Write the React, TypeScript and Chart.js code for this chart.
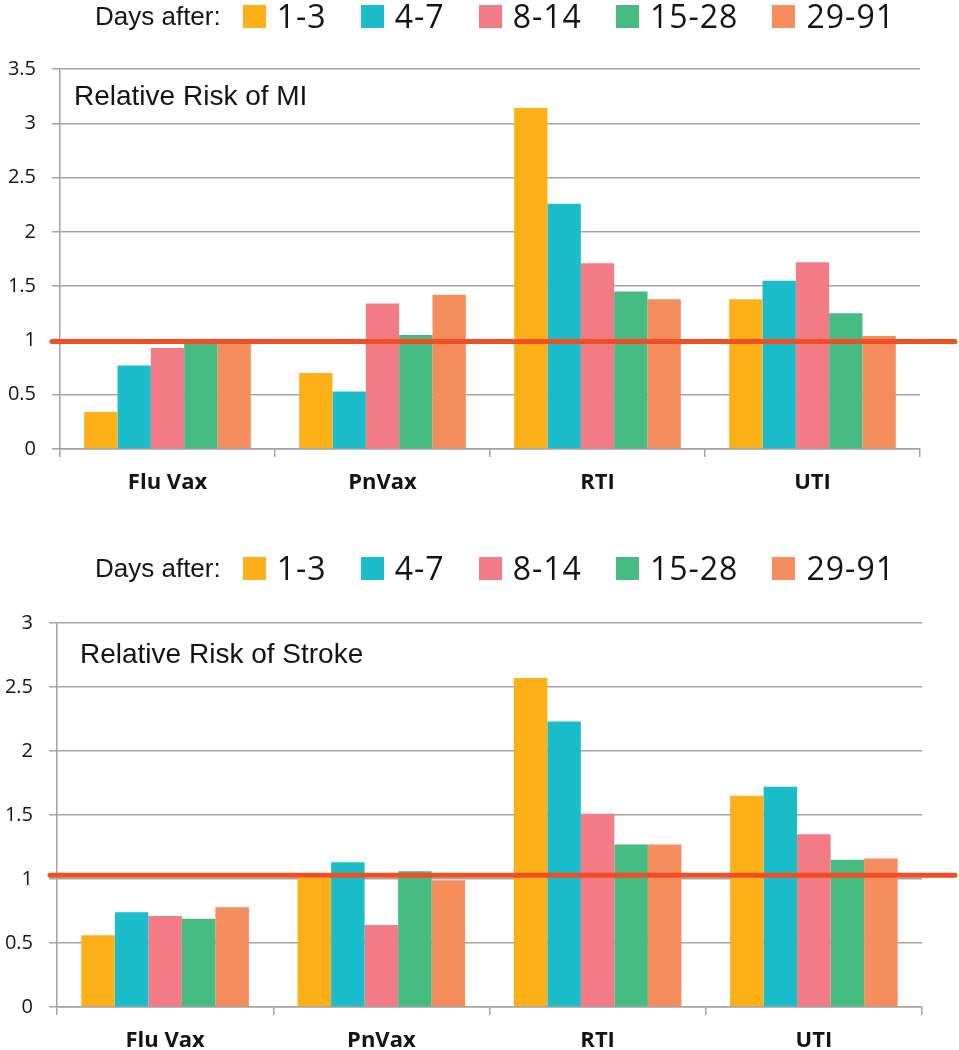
import React, { useEffect, useRef } from "react";
import { Chart, registerables } from "chart.js";

Chart.register(...registerables);

// ---------- data ----------
const categories = ["Flu Vax", "PnVax", "RTI", "UTI"];
const periods = ["1-3", "4-7", "8-14", "15-28", "29-91"];
const colors = ["#FDB017", "#1BBDCB", "#F37B86", "#46BC82", "#F68D5C"];

const miDays1to3 = [0.34, 0.7, 3.14, 1.38];
const miDays4to7 = [0.77, 0.53, 2.26, 1.55];
const miDays8to14 = [0.93, 1.34, 1.71, 1.72];
const miDays15to28 = [0.98, 1.05, 1.45, 1.25];
const miDays29to91 = [0.99, 1.42, 1.38, 1.04];

const strokeDays1to3 = [0.56, 1.01, 2.57, 1.65];
const strokeDays4to7 = [0.74, 1.13, 2.23, 1.72];
const strokeDays8to14 = [0.71, 0.64, 1.51, 1.35];
const strokeDays15to28 = [0.69, 1.06, 1.27, 1.15];
const strokeDays29to91 = [0.78, 0.99, 1.27, 1.16];

const miYMax = 3.5;
const strokeYMax = 3;
const yStep = 0.5;
const miReference = 0.99;
const strokeReference = 1.03;

const miTitle = "Relative Risk of MI";
const strokeTitle = "Relative Risk of Stroke";
const legendLabel = "Days after:";

const GRID = "#a3a3a3";
const TEXT = "#141414";

const overlayPlugin = {
  id: "overlay",
  afterDatasetsDraw(chart: any, _args: any, opts: any) {
    const { ctx, chartArea } = chart;
    const y = chart.scales.y.getPixelForValue(opts.refValue);
    ctx.save();
    ctx.strokeStyle = "#F04E23";
    ctx.lineWidth = 5;
    ctx.lineCap = "round";
    ctx.beginPath();
    ctx.moveTo(opts.lineStart, y);
    ctx.lineTo(chart.width - 4, y);
    ctx.stroke();
    ctx.fillStyle = TEXT;
    ctx.font = "28px 'Liberation Sans', Arial, sans-serif";
    ctx.textBaseline = "alphabetic";
    ctx.textAlign = "left";
    ctx.fillText(opts.title, chartArea.left + opts.titleDx, chartArea.top + opts.titleDy);
    ctx.restore();
  },
};

type PanelProps = {
  series: number[][];
  yMax: number;
  refValue: number;
  title: string;
  height: number;
  padTop: number;
  padRight: number;
  yWidth: number;
  xHeight: number;
  titleDx: number;
  titleDy: number;
  lineStart: number;
};

function Panel(p: PanelProps) {
  const ref = useRef<HTMLCanvasElement | null>(null);
  useEffect(() => {
    if (!ref.current) return;
    const chart = new Chart(ref.current, {
      type: "bar",
      data: {
        labels: categories,
        datasets: periods.map((label, i) => ({
          label,
          data: p.series[i],
          backgroundColor: colors[i],
          borderWidth: 0,
          barPercentage: 1,
          categoryPercentage: 0.775,
        })),
      },
      options: {
        animation: false,
        responsive: false,
        layout: { padding: { top: p.padTop, right: p.padRight, left: 0, bottom: 0 } },
        plugins: {
          legend: { display: false },
          tooltip: { enabled: false },
          overlay: {
            refValue: p.refValue,
            title: p.title,
            titleDx: p.titleDx,
            titleDy: p.titleDy,
            lineStart: p.lineStart,
          },
        } as any,
        scales: {
          x: {
            offset: true,
            grid: {
              offset: true,
              drawOnChartArea: false,
              drawTicks: true,
              tickLength: 8,
              color: GRID,
              lineWidth: 1.5,
            },
            border: { color: GRID, width: 1.5 },
            ticks: {
              color: TEXT,
              padding: 13,
              maxRotation: 0,
              font: { family: "'Open Sans', sans-serif", size: 22, weight: "bold" },
            },
            afterFit: (s: any) => {
              s.height = p.xHeight;
            },
          },
          y: {
            min: 0,
            max: p.yMax,
            ticks: {
              stepSize: yStep,
              color: TEXT,
              padding: 16,
              font: { family: "'Open Sans', sans-serif", size: 20 },
              callback: (v: any) => String(Number(v)),
            },
            grid: { color: GRID, lineWidth: 1.5, tickLength: 8 },
            border: { color: GRID, width: 1.5 },
            afterFit: (s: any) => {
              s.width = p.yWidth;
            },
          },
        },
      } as any,
      plugins: [overlayPlugin as any],
    });
    return () => chart.destroy();
  }, []);
  return <canvas ref={ref} width={959} height={p.height} style={{ display: "block" }} />;
}

function Legend({ top }: { top: number }) {
  return (
    <div
      style={{
        position: "absolute",
        left: 95,
        top,
        width: 800,
        height: 32,
        display: "flex",
        alignItems: "center",
      }}
    >
      <span
        style={{
          font: "26px 'Liberation Sans', Arial, sans-serif",
          color: TEXT,
          marginRight: 22,
          whiteSpace: "nowrap",
        }}
      >
        {legendLabel}
      </span>
      <div style={{ flex: 1, display: "flex", justifyContent: "space-between", alignItems: "center" }}>
        {periods.map((label, i) => (
          <div key={label} style={{ display: "flex", alignItems: "center" }}>
            <span
              style={{ display: "inline-block", width: 23, height: 23, background: colors[i], marginRight: 11 }}
            />
            <span
              style={{
                font: "32px 'Open Sans', sans-serif",
                lineHeight: "32px",
                color: TEXT,
                letterSpacing: 1,
                whiteSpace: "nowrap",
              }}
            >
              {label}
            </span>
          </div>
        ))}
      </div>
    </div>
  );
}

export default function App() {
  return (
    <div
      style={{
        position: "absolute",
        left: 0,
        top: 0,
        width: 959,
        height: 1050,
        background: "#fff",
        overflow: "hidden",
      }}
    >
      <div style={{ position: "absolute", left: 0, top: 0 }}>
        <Panel
          series={[miDays1to3, miDays4to7, miDays8to14, miDays15to28, miDays29to91]}
          yMax={miYMax}
          refValue={miReference}
          title={miTitle}
          height={520}
          padTop={69}
          padRight={39}
          yWidth={60}
          xHeight={71}
          titleDx={14}
          titleDy={36}
          lineStart={52}
        />
      </div>
      <div style={{ position: "absolute", left: 0, top: 520 }}>
        <Panel
          series={[strokeDays1to3, strokeDays4to7, strokeDays8to14, strokeDays15to28, strokeDays29to91]}
          yMax={strokeYMax}
          refValue={strokeReference}
          title={strokeTitle}
          height={530}
          padTop={103}
          padRight={37}
          yWidth={57}
          xHeight={43}
          titleDx={23}
          titleDy={40}
          lineStart={50}
        />
      </div>
      <Legend top={0} />
      <Legend top={552} />
    </div>
  );
}
